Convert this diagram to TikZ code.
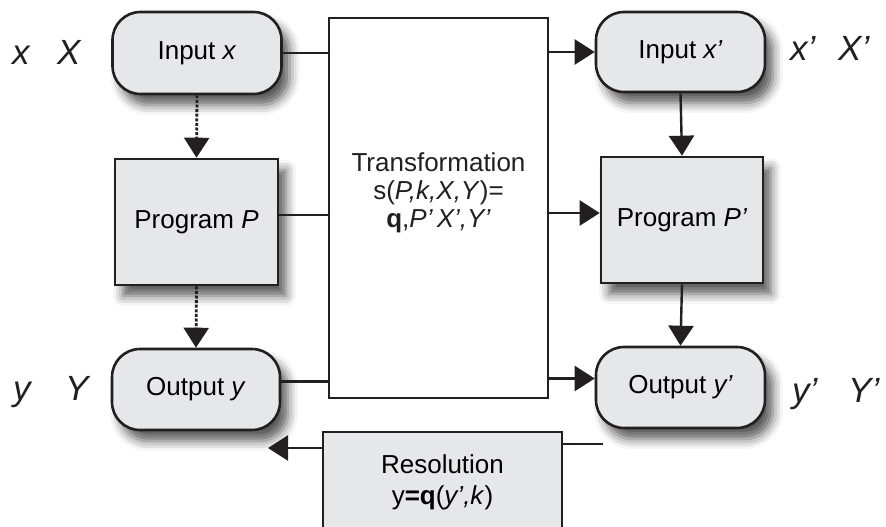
\documentclass[tikz,border=0pt]{standalone}
\usepackage{fontspec}
\setmainfont{Liberation Sans}
\usetikzlibrary{arrows.meta,shadows.blur,calc}
\definecolor{boxgray}{HTML}{E6E7E9}
\definecolor{ink}{HTML}{231F20}
\tikzset{
  basebox/.style={draw=ink, line width=2.6pt, fill=boxgray, font=\fontsize{26}{30}\selectfont, align=center, inner sep=0pt},
  shad/.style={blur shadow={shadow xshift=8pt, shadow yshift=-11pt, shadow blur radius=10pt, shadow opacity=65}},
  rbox/.style={basebox, shad, rounded corners=28pt},
  sbox/.style={basebox, shad},
  conn/.style={line width=2.4pt, draw=ink},
  arr/.style={conn, -{Triangle[width=25pt,length=20pt]}},
  darr/.style={arr, dash pattern=on 3pt off 1.6pt, line width=2.8pt},
  side/.style={font=\fontsize{35}{40}\selectfont\itshape, inner sep=0pt, anchor=base west, text=ink},
}
\begin{document}
\begin{tikzpicture}[x=1pt,y=-1pt]
\useasboundingbox (0,0) rectangle (886,527);
\clip (0,0) rectangle (886,527);

% left column
\node[rbox, minimum width=169pt, minimum height=82pt] (inx) at (197,53) {Input \textit{x}};
\node[sbox, minimum width=163pt, minimum height=126pt] (progP) at (196.5,222) {Program \textit{P}};
\node[rbox, minimum width=168pt, minimum height=81pt] (outy) at (196,389.5) {Output \textit{y}};

% transformation
\node[basebox, fill=white, minimum width=219pt, minimum height=380pt] (trans) at (438.5,208) {};
\node[font=\fontsize{26}{28}\selectfont, align=center, inner sep=0pt, text=ink] (transtxt) at (438.5,193)
  {Transformation\\s(\textit{P,k,X,Y})=\\\textbf{q},\textit{P’\,X’,Y’}};

% right column
\node[rbox, minimum width=169pt, minimum height=80pt] (inx2) at (680.5,52) {Input \textit{x’}};
\node[sbox, minimum width=162pt, minimum height=126pt] (progP2) at (682,220) {Program \textit{P’}};
\node[rbox, minimum width=169pt, minimum height=81pt] (outy2) at (680.5,387.5) {Output \textit{y’}};

% resolution
\node[basebox, minimum width=239pt, minimum height=100pt, font=\fontsize{26}{31}\selectfont] (res) at (442.5,482)
  {Resolution\\y\textbf{=q}(\textit{y’,k})};

% side labels
\node[side] (lx) at (12,65) {x};
\node[side] (lX) at (57,65) {X};
\node[side] (lx2) at (790,60) {x’};
\node[side] (lX2) at (838,60) {X’};
\node[side] (ly) at (13,400) {y};
\node[side] (lY) at (65,400) {Y};
\node[side] (ly2) at (792,402) {y’};
\node[side] (lY2) at (848,402) {Y’};

% anchor points
\coordinate (pE) at ([yshift=7pt]progP.east);
\coordinate (oE) at ([yshift=8pt]outy.east);
\coordinate (p2W) at ([yshift=7pt]progP2.west);
\coordinate (o2W) at ([yshift=9pt]outy2.west);

% connectors left to transformation
\draw[conn] (inx.east) -- (inx.east -| trans.west);
\draw[conn] (pE) -- (pE -| trans.west);
\draw[conn] (oE) -- (oE -| trans.west);

% transformation to right
\draw[arr] (trans.east |- inx2.west) -- (inx2.west);
\draw[arr] (trans.east |- p2W) -- (p2W);
\draw[arr] (trans.east |- o2W) -- (o2W);

% vertical flows
\draw[darr] (inx.south) -- (progP.north);
\draw[darr] (progP.south) -- (outy.north);
\draw[arr] (inx2.south) -- (progP2.north);
\draw[arr] (progP2.south) -- (outy2.north);

% resolution connectors
\coordinate (rEnd) at (603,444);
\coordinate (lTip) at (268,448);
\draw[conn] (res.east |- rEnd) -- (rEnd);
\draw[arr] (res.west |- lTip) -- (lTip);
\end{tikzpicture}
\end{document}
